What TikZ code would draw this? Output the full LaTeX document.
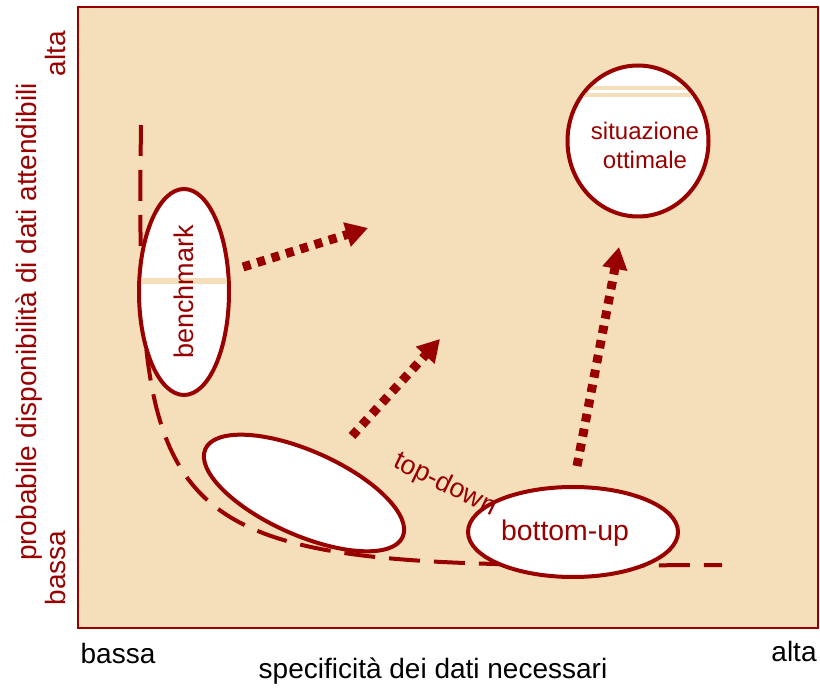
\documentclass[tikz,border=0pt]{standalone}
\usepackage{fontspec}
\setmainfont{Liberation Sans}
\usetikzlibrary{shapes.geometric, arrows.meta, positioning}
\usepackage{xcolor}
\definecolor{dred}{HTML}{990000}
\definecolor{wheatbg}{HTML}{F5DFBA}

\begin{document}
\begin{tikzpicture}[
    x=0.5pt, y=-0.5pt,
    blob/.style={ellipse, draw=dred, fill=white, line width=2pt, inner sep=0pt, text=dred},
    push/.style={-{Triangle[length=11pt, width=12pt]}, dred, line width=4.5pt, dash pattern=on 4pt off 3.5pt},
    trend/.style={dred, line width=2pt, dash pattern=on 15.5pt off 7pt},
    stripe/.style={wheatbg, line width=2pt},
    axis/.style={font=\fontsize{14pt}{17pt}\selectfont},
    inlab/.style={text=dred, font=\fontsize{13.5pt}{16pt}\selectfont}
]
\useasboundingbox (0,0) rectangle (820,689);
\draw [dred, line width=0.7pt, fill=wheatbg] (78,7) rectangle (818,628);

% axis labels
\node (xlow) [axis] at (118,653) {bassa};
\node (xhigh) [axis] at (794,651) {alta};
\node (xname) [axis] at (433,671) {specificità dei dati necessari};
\node (ylow) [axis, text=dred, rotate=90] at (55,568) {bassa};
\node (yhigh) [axis, text=dred, rotate=90] at (55,54) {alta};
\node (yname) [axis, text=dred, rotate=90] at (29,322) {probabile disponibilità di dati attendibili};

% trade-off curve
\coordinate (c0) at (141,125);
\coordinate (c1) at (722,565);
\draw [trend] (c0) .. controls (135,560) and (160,568) .. (c1);

% strategies
\node (bench) [blob, rotate=90, minimum width=103pt, minimum height=45pt] at (184,292) {};
\begin{scope}
  \clip (184,292) ellipse [x radius=43, y radius=101];
  \draw [stripe, line width=3pt] (130,281) -- (240,281);
\end{scope}
\node (benchlab) [inlab, rotate=90] at (bench.center) {benchmark};
\node (mid) [blob, rotate=-24, minimum width=108pt, minimum height=42pt] at (304,493) {};
\node (bup) [blob, minimum width=105pt, minimum height=45pt] at (573,532) {};
\node (buplab) [inlab, font=\fontsize{14.2pt}{17pt}\selectfont] at (565,533) {bottom-up};
\node (opt) [blob, minimum width=70.5pt, minimum height=75.5pt] at (638,141) {};
\begin{scope}
  \clip (638,141) ellipse [x radius=68.5, y radius=73.5];
  \draw [stripe] (560,88.5) -- (720,88.5);
  \draw [stripe] (560,95.5) -- (720,95.5);
\end{scope}
\node (optlab) [inlab, align=center, font=\fontsize{12pt}{14.5pt}\selectfont] at (645,145) {situazione\\ottimale};
\node (td) [inlab, rotate=-26] at (445,485) {top-down};

% moves
\coordinate (a1) at (243,267);
\coordinate (a1e) at (368,228);
\coordinate (a2) at (352,436);
\coordinate (a2e) at (440,339);
\coordinate (a3) at (577,466);
\coordinate (a3e) at (619,247);
\draw [push] (a1) -- (a1e);
\draw [push] (a2) -- (a2e);
\draw [push] (a3) -- (a3e);

\end{tikzpicture}
\end{document}
